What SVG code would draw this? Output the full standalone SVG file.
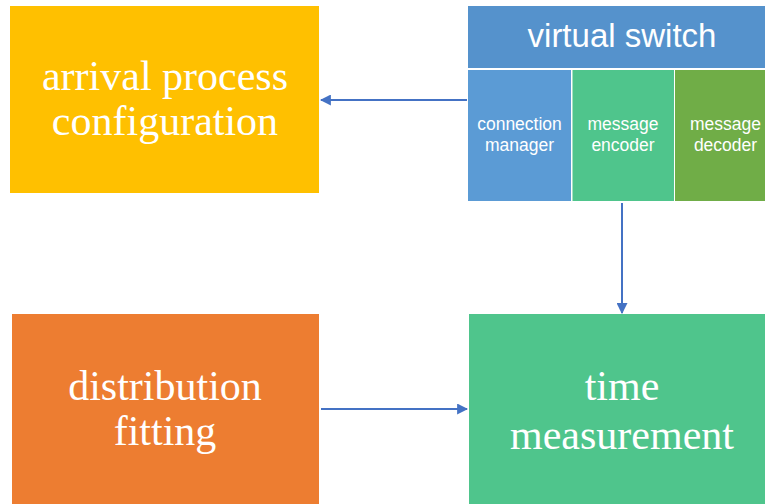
<svg xmlns="http://www.w3.org/2000/svg" width="765" height="504" viewBox="0 0 765 504">
<style>
.serif{font-family:"Liberation Serif","Times New Roman",serif;font-size:42px;fill:#fff;text-anchor:middle}
.sans{font-family:"Liberation Sans",Arial,sans-serif;fill:#fff;text-anchor:middle}
.small{font-size:17.5px}
.conn{stroke:#4472C4;stroke-width:2;fill:none;marker-end:url(#ah)}
</style>
<defs>
<marker id="ah" viewBox="0 0 10 10" refX="9" refY="5" markerWidth="5.5" markerHeight="5.5" orient="auto" markerUnits="strokeWidth">
<path d="M0,0 L10,5 L0,10 z" fill="#4472C4"/>
</marker>
</defs>
<rect width="765" height="504" fill="#fff"/>
<g id="arrival">
<rect x="10" y="6" width="309" height="187" fill="#FFC000"/>
<text class="serif" x="165" y="90">arrival process</text>
<text class="serif" x="165" y="135">configuration</text>
</g>
<g id="virtual-switch">
<rect x="468" y="6" width="297" height="62" fill="#5592CC"/>
<text class="sans" x="622" y="47" font-size="33">virtual switch</text>
</g>
<g id="connection-manager">
<rect x="468" y="70" width="103" height="131" fill="#5B9BD5"/>
<text class="sans small" x="519.5" y="130">connection</text>
<text class="sans small" x="519.5" y="151">manager</text>
</g>
<g id="message-encoder">
<rect x="572.5" y="70" width="101.5" height="131" fill="#4FC58C"/>
<text class="sans small" x="623" y="130">message</text>
<text class="sans small" x="623" y="151">encoder</text>
</g>
<g id="message-decoder">
<rect x="675" y="70" width="90" height="131" fill="#70AD47"/>
<text class="sans small" x="725.5" y="130">message</text>
<text class="sans small" x="725.5" y="151">decoder</text>
</g>
<g id="distribution">
<rect x="12" y="314" width="307" height="190" fill="#ED7D31"/>
<text class="serif" x="165" y="400">distribution</text>
<text class="serif" x="165" y="445">fitting</text>
</g>
<g id="time">
<rect x="469" y="314" width="296" height="190" fill="#4FC58C"/>
<text class="serif" x="622" y="400">time</text>
<text class="serif" x="622" y="449">measurement</text>
</g>
<g id="connectors">
<line class="conn" x1="467" y1="100" x2="321" y2="100"/>
<line class="conn" x1="622" y1="203" x2="622" y2="313"/>
<line class="conn" x1="321" y1="409" x2="467" y2="409"/>
</g>
</svg>
